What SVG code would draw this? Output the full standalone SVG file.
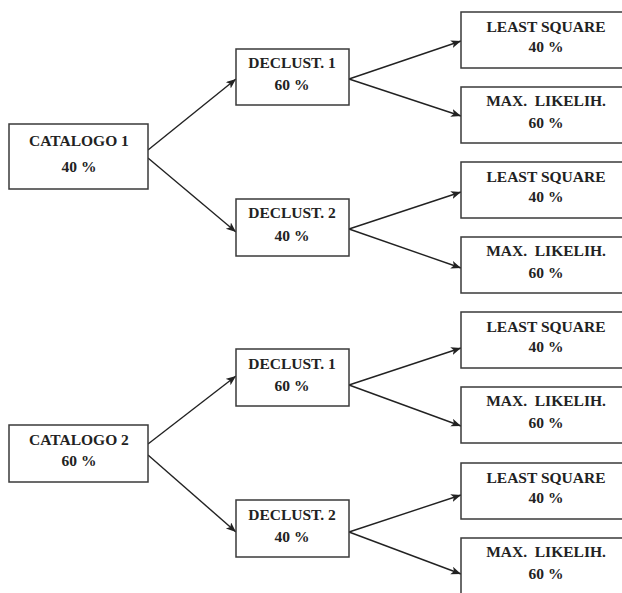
<svg xmlns="http://www.w3.org/2000/svg" width="622" height="593" viewBox="0 0 622 593">
<style>
.box{fill:#fff;stroke:#3a3a3a;stroke-width:1.5}
.t{font-family:"Liberation Serif","Times New Roman",serif;font-weight:bold;font-size:15.5px;fill:#222;text-anchor:middle;white-space:pre}
.c{stroke:#222;stroke-width:1.4;fill:none;marker-end:url(#ah)}
</style>
<defs>
<marker id="ah" markerUnits="userSpaceOnUse" markerWidth="12" markerHeight="10" refX="10" refY="4" orient="auto">
<path d="M0,0 L10,4 L0,8 L2.5,4 z" fill="#222"/>
</marker>
</defs>
<rect width="622" height="593" fill="#fff"/>
<g id="connectors">
<line class="c" x1="148" y1="150" x2="236" y2="79"/>
<line class="c" x1="148" y1="158" x2="236" y2="232"/>
<line class="c" x1="349" y1="79" x2="461" y2="41"/>
<line class="c" x1="349" y1="79" x2="461" y2="116"/>
<line class="c" x1="349" y1="229" x2="461" y2="192"/>
<line class="c" x1="349" y1="229" x2="461" y2="268"/>
<line class="c" x1="148" y1="444" x2="236" y2="376"/>
<line class="c" x1="148" y1="455" x2="236" y2="532"/>
<line class="c" x1="349" y1="385" x2="461" y2="348"/>
<line class="c" x1="349" y1="385" x2="461" y2="426"/>
<line class="c" x1="349" y1="532" x2="461" y2="495"/>
<line class="c" x1="349" y1="532" x2="461" y2="574"/>
</g>
<g id="catalogo1"><rect class="box" x="9" y="124" width="139" height="65"/><text class="t" x="79" y="146">CATALOGO 1</text><text class="t" x="79" y="172">40 %</text></g>
<g id="declust1a"><rect class="box" x="236" y="49" width="113" height="56"/><text class="t" x="292" y="68">DECLUST. 1</text><text class="t" x="292" y="90">60 %</text></g>
<g id="declust2a"><rect class="box" x="236" y="199" width="113" height="57"/><text class="t" x="292" y="218">DECLUST. 2</text><text class="t" x="292" y="241">40 %</text></g>
<g id="leaf1"><rect class="box" x="461" y="12" width="175" height="56"/><text class="t" x="546" y="32">LEAST SQUARE</text><text class="t" x="546" y="52">40 %</text></g>
<g id="leaf2"><rect class="box" x="461" y="87" width="175" height="56"/><text class="t" x="546" y="106" xml:space="preserve">MAX.  LIKELIH.</text><text class="t" x="546" y="128">60 %</text></g>
<g id="leaf3"><rect class="box" x="461" y="162" width="175" height="56"/><text class="t" x="546" y="182">LEAST SQUARE</text><text class="t" x="546" y="202">40 %</text></g>
<g id="leaf4"><rect class="box" x="461" y="237" width="175" height="56"/><text class="t" x="546" y="256" xml:space="preserve">MAX.  LIKELIH.</text><text class="t" x="546" y="278">60 %</text></g>
<g id="catalogo2"><rect class="box" x="9" y="425" width="139" height="57"/><text class="t" x="79" y="445">CATALOGO 2</text><text class="t" x="79" y="466">60 %</text></g>
<g id="declust1b"><rect class="box" x="236" y="349" width="113" height="57"/><text class="t" x="292" y="369">DECLUST. 1</text><text class="t" x="292" y="391">60 %</text></g>
<g id="declust2b"><rect class="box" x="236" y="500" width="113" height="57"/><text class="t" x="292" y="520">DECLUST. 2</text><text class="t" x="292" y="542">40 %</text></g>
<g id="leaf5"><rect class="box" x="461" y="312" width="175" height="56"/><text class="t" x="546" y="332">LEAST SQUARE</text><text class="t" x="546" y="352">40 %</text></g>
<g id="leaf6"><rect class="box" x="461" y="387" width="175" height="56"/><text class="t" x="546" y="406" xml:space="preserve">MAX.  LIKELIH.</text><text class="t" x="546" y="428">60 %</text></g>
<g id="leaf7"><rect class="box" x="461" y="463" width="175" height="56"/><text class="t" x="546" y="483">LEAST SQUARE</text><text class="t" x="546" y="503">40 %</text></g>
<g id="leaf8"><rect class="box" x="461" y="538" width="175" height="60"/><text class="t" x="546" y="557" xml:space="preserve">MAX.  LIKELIH.</text><text class="t" x="546" y="579">60 %</text></g>
</svg>
